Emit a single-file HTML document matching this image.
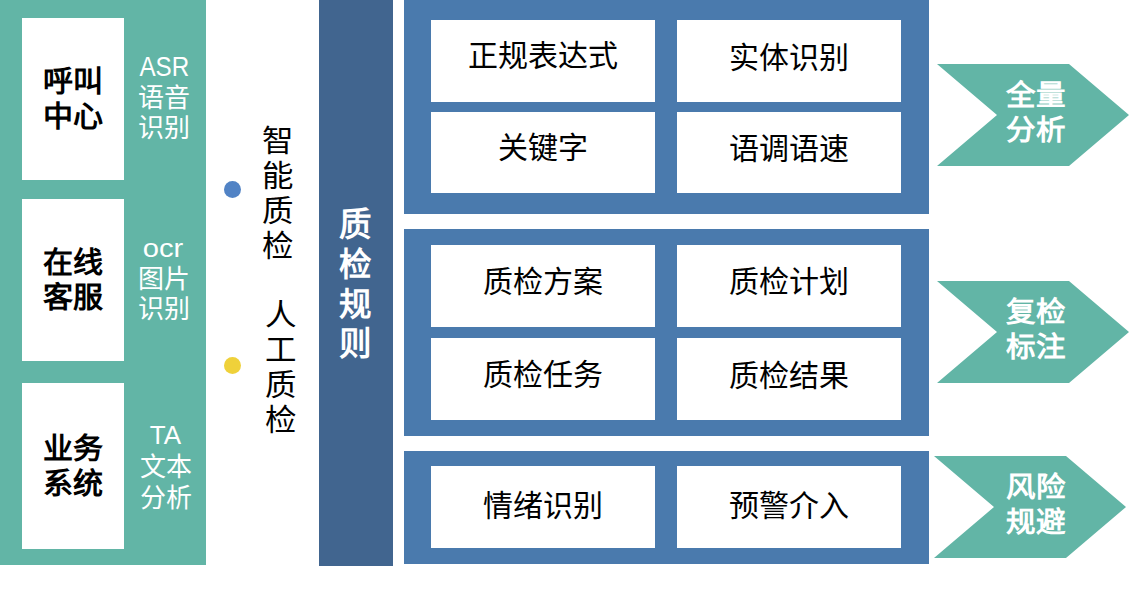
<!DOCTYPE html>
<html lang="zh-CN">
<head>
<meta charset="utf-8">
<style>
html,body{margin:0;padding:0;}
body{width:1129px;height:603px;background:#fff;position:relative;overflow:hidden;font-family:"Liberation Sans",sans-serif;}
.a{position:absolute;}
.green{background:#62b5a6;}
.wbox{background:#fff;}
.lab{position:absolute;font-weight:bold;color:#000;font-size:29px;line-height:35px;text-align:center;white-space:nowrap;transform:scaleX(1.035);}
.lat{display:inline-block;transform-origin:50% 60%;}
.side{position:absolute;color:#fff;font-size:26px;line-height:30px;text-align:center;white-space:nowrap;}
.dot{position:absolute;width:17px;height:17px;border-radius:50%;}
.vt{position:absolute;font-size:30px;line-height:35px;color:#000;width:32px;text-align:center;transform:scaleX(1.05);}
.dark{background:#41658f;}
.blue{background:#4a7aad;}
.cell{position:absolute;background:#fff;width:224px;font-size:30px;color:#000;text-align:center;white-space:nowrap;}
.chev{position:absolute;}
.ct{position:absolute;color:#fff;font-weight:bold;font-size:28px;transform-origin:0 0;transform:scaleX(1.055);line-height:35px;white-space:nowrap;}
</style>
</head>
<body>
<!-- left green panel -->
<div class="a green" style="left:0;top:0;width:206px;height:565px;"></div>
<div class="a wbox" style="left:22px;top:18px;width:102px;height:162px;"></div>
<div class="a wbox" style="left:22px;top:199px;width:102px;height:162px;"></div>
<div class="a wbox" style="left:22px;top:383px;width:102px;height:166px;"></div>

<div class="lab" style="left:22px;top:65px;width:102px;">呼叫<br>中心</div>
<div class="lab" style="left:22px;top:246px;width:102px;">在线<br>客服</div>
<div class="lab" style="left:22px;top:432px;width:102px;">业务<br>系统</div>

<div class="side" style="left:123.5px;top:52px;width:82px;"><span class="lat" style="font-size:27.5px;transform:scaleX(0.88);">ASR</span></div>
<div class="side" style="left:122.5px;top:83px;width:82px;">语音</div>
<div class="side" style="left:122.5px;top:113px;width:82px;">识别</div>
<div class="side" style="left:122.5px;top:233px;width:82px;"><span class="lat" style="font-size:26px;transform:scaleX(1.12);">ocr</span></div>
<div class="side" style="left:122.5px;top:264px;width:82px;">图片</div>
<div class="side" style="left:122.5px;top:294px;width:82px;">识别</div>
<div class="side" style="left:124.5px;top:420px;width:82px;"><span class="lat" style="font-size:26px;">TA</span></div>
<div class="side" style="left:124.5px;top:452px;width:82px;">文本</div>
<div class="side" style="left:124.5px;top:482.5px;width:82px;">分析</div>

<!-- dots and vertical text -->
<div class="dot" style="left:224px;top:181px;background:#5183c5;"></div>
<div class="dot" style="left:224px;top:356.5px;background:#efd13a;"></div>
<div class="vt" style="left:262px;top:123px;">智<br>能<br>质<br>检</div>
<div class="vt" style="left:265px;top:297px;">人<br>工<br>质<br>检</div>

<!-- dark column -->
<div class="a dark" style="left:319px;top:0;width:74px;height:566px;"></div>
<div class="a" style="left:318px;top:206px;width:74px;color:#fff;font-weight:bold;font-size:32.5px;line-height:39.8px;text-align:center;">质<br>检<br>规<br>则</div>

<!-- blue panels -->
<div class="a blue" style="left:404px;top:0;width:525px;height:214px;"></div>
<div class="a blue" style="left:404px;top:229px;width:525px;height:207px;"></div>
<div class="a blue" style="left:404px;top:451px;width:525px;height:113px;"></div>

<div class="cell" style="left:431px;top:20px;height:82px;line-height:72px;">正规表达式</div>
<div class="cell" style="left:677px;top:20px;height:82px;line-height:72px;padding-top:2px;box-sizing:border-box;">实体识别</div>
<div class="cell" style="left:431px;top:112px;height:81px;line-height:72px;">关键字</div>
<div class="cell" style="left:677px;top:112px;height:81px;line-height:72px;padding-top:1px;box-sizing:border-box;">语调语速</div>

<div class="cell" style="left:431px;top:245px;height:82px;line-height:72px;padding-top:1px;box-sizing:border-box;">质检方案</div>
<div class="cell" style="left:677px;top:245px;height:82px;line-height:72px;padding-top:1px;box-sizing:border-box;">质检计划</div>
<div class="cell" style="left:431px;top:338px;height:82px;line-height:72px;padding-top:1px;box-sizing:border-box;">质检任务</div>
<div class="cell" style="left:677px;top:338px;height:82px;line-height:72px;padding-top:2px;box-sizing:border-box;">质检结果</div>

<div class="cell" style="left:431px;top:466px;height:82px;line-height:72px;padding-top:4px;box-sizing:border-box;">情绪识别</div>
<div class="cell" style="left:677px;top:466px;height:82px;line-height:72px;padding-top:4px;box-sizing:border-box;">预警介入</div>

<!-- chevrons -->
<svg class="chev" style="left:0;top:0;" width="1129" height="603">
<polygon fill="#62b5a6" points="937,64 1069,64 1129,115 1069,166 937,166 997,115"/>
<polygon fill="#62b5a6" points="937,281 1069,281 1129,332 1069,383 937,383 997,332"/>
<polygon fill="#62b5a6" points="934,456 1066,456 1126,507 1066,558 934,558 994,507"/>
</svg>
<div class="ct" style="left:1006px;top:78px;">全量<br>分析</div>
<div class="ct" style="left:1006px;top:295px;">复检<br>标注</div>
<div class="ct" style="left:1006px;top:470px;">风险<br>规避</div>
</body>
</html>
